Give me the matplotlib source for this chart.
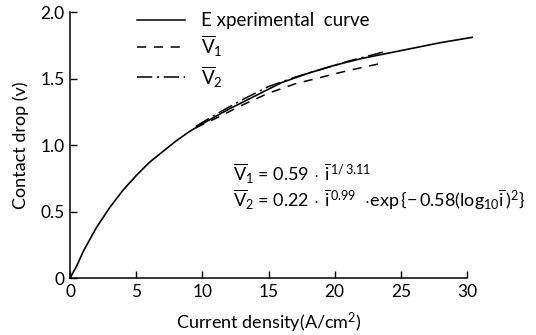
import matplotlib
matplotlib.use("Agg")
import matplotlib.pyplot as plt

plt.rcParams['font.family'] = ['Lato', 'DejaVu Sans']
plt.rcParams['mathtext.fontset'] = 'custom'
plt.rcParams['mathtext.rm'] = 'Lato'
plt.rcParams['mathtext.it'] = 'Lato'

# experimental curve
expX = [0, 0.5, 1, 2, 3, 4, 5, 6, 7, 8, 9, 10, 12, 14, 16, 18, 20, 22, 24, 26, 28, 30.4]
expY = [0, 0.09, 0.2, 0.38, 0.53, 0.66, 0.77, 0.87, 0.95, 1.03, 1.10, 1.16, 1.27, 1.37,
        1.47, 1.54, 1.60, 1.65, 1.69, 1.73, 1.77, 1.81]

# V1 fit
v1X = [9.5, 11, 13, 15, 17, 19, 21, 23.8]
v1Y = [1.13, 1.20, 1.30, 1.39, 1.46, 1.51, 1.56, 1.62]

# V2 fit
v2X = [9.5, 11, 13, 15, 17, 19, 21, 23.7]
v2Y = [1.14, 1.23, 1.34, 1.44, 1.51, 1.57, 1.63, 1.70]

xTicks = [0, 5, 10, 15, 20, 25, 30]
yTicks = [0, 0.5, 1.0, 1.5, 2.0]
yTickLabels = ["0", "0.5", "1.0", "1.5", "2.0"]

fig = plt.figure(figsize=(5.36, 3.35), dpi=100)
ax = fig.add_axes([0.1306, 0.170, 0.7407, 0.794])

ax.plot(expX, expY, color='black', lw=1.2, clip_on=False)
ax.plot(v1X, v1Y, color='black', lw=1.1, dashes=(6, 5))
ax.plot(v2X, v2Y, color='black', lw=1.1, dashes=(10, 3, 1.5, 3))

ax.set_xlim(0, 30)
ax.set_ylim(0, 2.0)
ax.set_xticks(xTicks)
ax.set_yticks(yTicks)
ax.set_yticklabels(yTickLabels)
ax.tick_params(direction='in', length=5, width=1, labelsize=12.5, colors='black', pad=4)
ax.spines['top'].set_visible(False)
ax.spines['right'].set_visible(False)
ax.spines['left'].set_linewidth(1.1)
ax.spines['bottom'].set_linewidth(1.1)

ax.set_xlabel("Current density(A/cm$^2$)", fontsize=13, labelpad=8)
ax.set_ylabel("Contact drop (v)", fontsize=13, labelpad=8)

# legend drawn by hand in axes coords
legY = [0.97, 0.87, 0.755]
legLabels = ["E xperimental  curve", r"$\overline{\mathrm{V}}_{1}$", r"$\overline{\mathrm{V}}_{2}$"]
legStyles = [dict(ls='-'), dict(dashes=(6, 5)), dict(dashes=(10, 3, 1.5, 3))]
for yy, lab, st in zip(legY, legLabels, legStyles):
    ax.plot([0.17, 0.29], [yy, yy], transform=ax.transAxes, color='black', lw=1.1, **st)
    ax.text(0.33, yy, lab, transform=ax.transAxes, fontsize=13.5, va='center', ha='left')

ax.text(12.3, 0.78, r"$\overline{\mathrm{V}}_{1}$ = 0.59$\,\cdot\,\overline{\mathrm{i}}^{\,1/\,3.11}$",
        fontsize=13, va='center')
ax.text(12.3, 0.59, r"$\overline{\mathrm{V}}_{2}$ = 0.22$\,\cdot\,\overline{\mathrm{i}}^{\,0.99}$  $\cdot$exp$\,\{-\,$0.58(log$_{10}\overline{\mathrm{i}}\,)^2\}$",
        fontsize=13, va='center')

fig.savefig("out.png", dpi=100)
